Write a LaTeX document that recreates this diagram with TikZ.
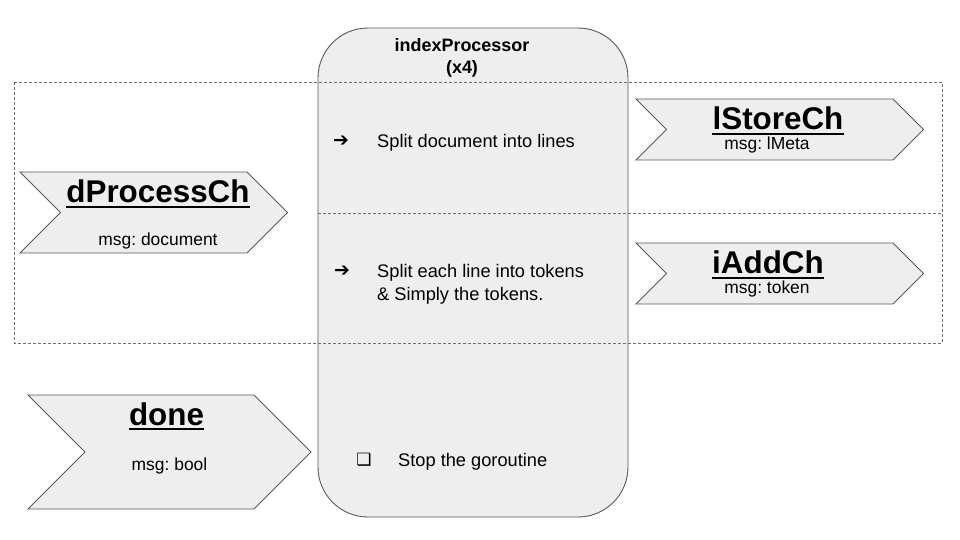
\documentclass[tikz,border=0pt]{standalone}
\usepackage{fontspec}
\setmainfont{Liberation Sans}
\newfontfamily\symfont{DejaVu Sans}
\definecolor{boxfill}{HTML}{EEEEEE}
\definecolor{boxline}{HTML}{5A5A5A}
\definecolor{dashline}{HTML}{6E6E6E}
\frenchspacing
\begin{document}
\begin{tikzpicture}[x=1bp,y=-1bp,
  chev/.style={fill=boxfill,draw=boxline,line width=0.8bp,line join=miter},
  sepline/.style={draw=dashline,line width=0.8bp,dash pattern=on 3bp off 2bp},
  chtitle/.style={inner sep=0,anchor=base,font=\fontsize{31.5}{36}\selectfont\bfseries},
  chmsg/.style={inner sep=0,anchor=base,font=\fontsize{17.5}{21}\selectfont},
  body/.style={inner sep=0,anchor=base west,font=\fontsize{18.3}{23}\selectfont},
  bullet/.style={inner sep=0,anchor=center,font=\symfont\fontsize{19}{22}\selectfont},
  title/.style={inner sep=0,anchor=base,font=\fontsize{18}{22}\selectfont\bfseries},
  uline/.style={line width=2bp,black}]
\useasboundingbox (0,0) rectangle (960,540);
\fill[white] (0,0) rectangle (960,540);
% central processor box
\draw[fill=boxfill,draw=boxline,line width=0.9bp,rounded corners=50bp] (318,28) rectangle (628,517);
% dashed frame and separator
\draw[sepline] (14,82) rectangle (942,343);
\coordinate (sepL) at (318,213);
\coordinate (sepR) at (942,213);
\draw[sepline] (sepL) -- (sepR);
% chevrons
\draw[chev] (20,172) -- (247,172) -- (287.5,212.5) -- (247,253) -- (20,253) -- (60.5,212.5) -- cycle;
\draw[chev] (636,99) -- (893,99) -- (923.5,129.5) -- (893,160) -- (636,160) -- (666.5,129.5) -- cycle;
\draw[chev] (636,243) -- (893,243) -- (923.5,273.5) -- (893,304) -- (636,304) -- (666.5,273.5) -- cycle;
\draw[chev] (28,395) -- (254,395) -- (311,452) -- (254,509) -- (28,509) -- (85,452) -- cycle;
% chevron texts
\node[chtitle] (dpt) at (158,203) {dProcessCh};
\node[chmsg] (dpm) at (158,246) {msg: document};
\node[chtitle] (lst) at (778,130) {lStoreCh};
\node[chmsg] (lsm) at (767,150) {msg: lMeta};
\node[chtitle] (iat) at (768,274) {iAddCh};
\node[chmsg] (iam) at (767,294) {msg: token};
\node[chtitle] (dnt) at (166.5,425) {done};
\node[chmsg] (dnm) at (169.5,470) {msg: bool};
\foreach \n in {dpt,lst,iat,dnt}
  \draw[uline] ([yshift=-4bp]\n.base west) -- ([yshift=-4bp]\n.base east);
% processor texts
\node[title] (ttl) at (462,52) {indexProcessor};
\node[title] (ttx) at (462,74) {(x4)};
\node[bullet] (b1) at (341,141) {➔};
\node[body] (t1) at (377,148) {Split document into lines};
\node[bullet] (b2) at (342,271) {➔};
\node[body] (t2a) at (377,278) {Split each line into tokens};
\node[body] (t2b) at (377,301) {\& Simply the tokens.};
\node[bullet,font=\symfont\fontsize{17}{20}\selectfont] (b3) at (364,460) {❑};
\node[body] (t3) at (398,466) {Stop the goroutine};
\end{tikzpicture}
\end{document}
